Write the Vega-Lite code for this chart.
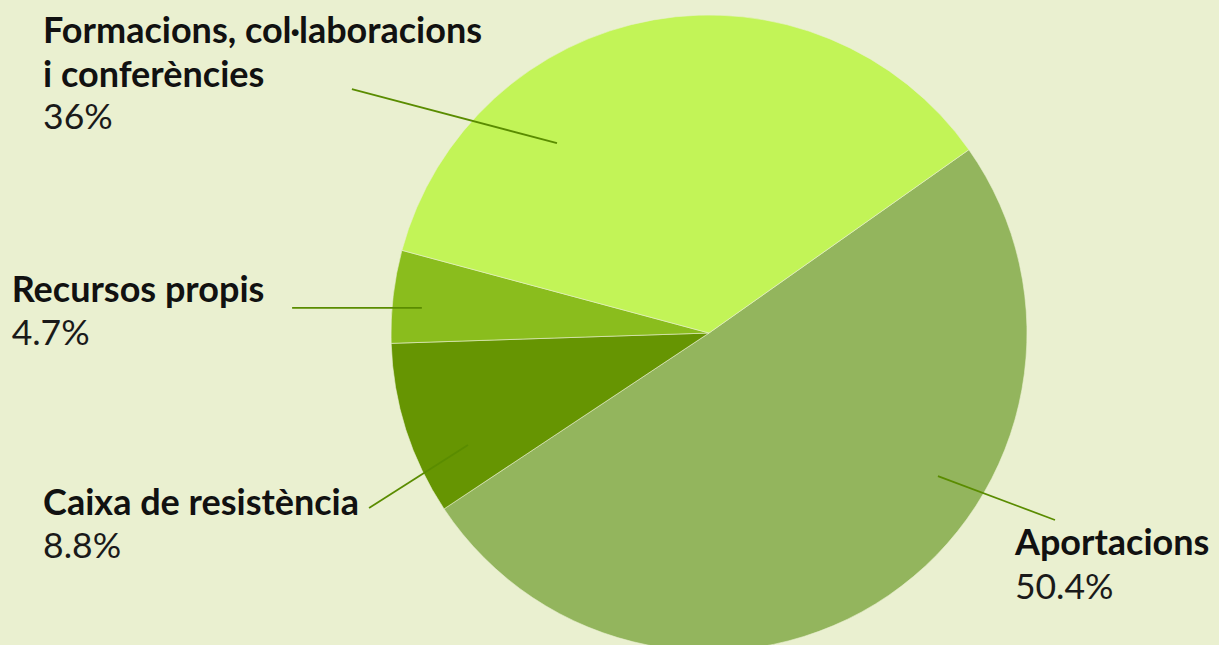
{
  "$schema": "https://vega.github.io/schema/vega-lite/v6.json",
  "autosize": "none",
  "width": 1020,
  "height": 624,
  "padding": {"left": 199, "top": 21, "right": 0, "bottom": 0},
  "background": "#eaf0d0",
  "config": {"view": {"stroke": null}},
  "data": {"values": [
    {"category": "Aportacions", "label": "Aportacions", "value": 50.4, "rank": 1},
    {"category": "Caixa de resistència", "label": "Caixa de resistència", "value": 8.8, "rank": 2},
    {"category": "Recursos propis", "label": "Recursos propis", "value": 4.7, "rank": 3},
    {"category": "Formacions, col·laboracions i conferències", "label": "Formacions, col·laboracions\ni conferències", "value": 36, "rank": 4}
  ]},
  "transform": [{"calculate": "datum.value + '%'", "as": "pct"}],
  "resolve": {"scale": {"x": "shared", "y": "shared"}},
  "layer": [
    {
      "mark": {"type": "arc", "outerRadius": 318, "stroke": "#eaf0d0", "strokeWidth": 0.6},
      "encoding": {
        "theta": {"field": "value", "type": "quantitative", "stack": true, "scale": {"range": [0.9564, 7.2396]}},
        "order": {"field": "rank", "type": "quantitative"},
        "color": {"field": "category", "type": "nominal", "legend": null,
          "scale": {"domain": ["Aportacions", "Caixa de resistència", "Recursos propis", "Formacions, col·laboracions i conferències"],
                    "range": ["#93b55d", "#669502", "#8abd1d", "#c2f457"]}}
      }
    },
    {
      "mark": {"type": "rule", "color": "#5a8c00", "strokeWidth": 1.75},
      "transform": [{"filter": "datum.rank == 4"}],
      "encoding": {
        "x": {"datum": -0.478, "type": "quantitative", "scale": {"domain": [-1.6038, 1.6038], "nice": false, "zero": false}, "axis": null},
        "y": {"datum": 0.597, "type": "quantitative", "scale": {"domain": [-0.98113, 0.98113], "nice": false, "zero": false}, "axis": null},
        "x2": {"datum": -1.123},
        "y2": {"datum": 0.767}
      }
    },
    {
      "mark": {"type": "rule", "color": "#5a8c00", "strokeWidth": 1.75},
      "transform": [{"filter": "datum.rank == 3"}],
      "encoding": {
        "x": {"datum": -0.903, "type": "quantitative"},
        "y": {"datum": 0.079, "type": "quantitative"},
        "x2": {"datum": -1.311},
        "y2": {"datum": 0.079}
      }
    },
    {
      "mark": {"type": "rule", "color": "#5a8c00", "strokeWidth": 1.75},
      "transform": [{"filter": "datum.rank == 2"}],
      "encoding": {
        "x": {"datum": -0.758, "type": "quantitative"},
        "y": {"datum": -0.352, "type": "quantitative"},
        "x2": {"datum": -1.069},
        "y2": {"datum": -0.55}
      }
    },
    {
      "mark": {"type": "rule", "color": "#5a8c00", "strokeWidth": 1.75},
      "transform": [{"filter": "datum.rank == 1"}],
      "encoding": {
        "x": {"datum": 0.72, "type": "quantitative"},
        "y": {"datum": -0.45, "type": "quantitative"},
        "x2": {"datum": 1.088},
        "y2": {"datum": -0.588}
      }
    },
    {
      "mark": {"type": "text", "font": "Lato", "fontSize": 36, "fontWeight": "bold", "color": "#111111", "align": "left", "baseline": "alphabetic", "lineBreak": "\n", "lineHeight": 44},
      "transform": [{"filter": "datum.rank == 4"}],
      "encoding": {"x": {"datum": -2.094, "type": "quantitative"}, "y": {"datum": 0.912, "type": "quantitative"}, "text": {"field": "label"}}
    },
    {
      "mark": {"type": "text", "font": "Lato", "fontSize": 35.5, "color": "#1a1a1a", "align": "left", "baseline": "alphabetic"},
      "transform": [{"filter": "datum.rank == 4"}],
      "encoding": {"x": {"datum": -2.094, "type": "quantitative"}, "y": {"datum": 0.642, "type": "quantitative"}, "text": {"field": "pct"}}
    },
    {
      "mark": {"type": "text", "font": "Lato", "fontSize": 36, "fontWeight": "bold", "color": "#111111", "align": "left", "baseline": "alphabetic"},
      "transform": [{"filter": "datum.rank == 3"}],
      "encoding": {"x": {"datum": -2.193, "type": "quantitative"}, "y": {"datum": 0.0975, "type": "quantitative"}, "text": {"field": "label"}}
    },
    {
      "mark": {"type": "text", "font": "Lato", "fontSize": 35.5, "color": "#1a1a1a", "align": "left", "baseline": "alphabetic"},
      "transform": [{"filter": "datum.rank == 3"}],
      "encoding": {"x": {"datum": -2.193, "type": "quantitative"}, "y": {"datum": -0.0377, "type": "quantitative"}, "text": {"field": "pct"}}
    },
    {
      "mark": {"type": "text", "font": "Lato", "fontSize": 36, "fontWeight": "bold", "color": "#111111", "align": "left", "baseline": "alphabetic"},
      "transform": [{"filter": "datum.rank == 2"}],
      "encoding": {"x": {"datum": -2.094, "type": "quantitative"}, "y": {"datum": -0.572, "type": "quantitative"}, "text": {"field": "label"}}
    },
    {
      "mark": {"type": "text", "font": "Lato", "fontSize": 35.5, "color": "#1a1a1a", "align": "left", "baseline": "alphabetic"},
      "transform": [{"filter": "datum.rank == 2"}],
      "encoding": {"x": {"datum": -2.094, "type": "quantitative"}, "y": {"datum": -0.708, "type": "quantitative"}, "text": {"field": "pct"}}
    },
    {
      "mark": {"type": "text", "font": "Lato", "fontSize": 36, "fontWeight": "bold", "color": "#111111", "align": "left", "baseline": "alphabetic"},
      "transform": [{"filter": "datum.rank == 1"}],
      "encoding": {"x": {"datum": 0.962, "type": "quantitative"}, "y": {"datum": -0.698, "type": "quantitative"}, "text": {"field": "label"}}
    },
    {
      "mark": {"type": "text", "font": "Lato", "fontSize": 35.5, "color": "#1a1a1a", "align": "left", "baseline": "alphabetic"},
      "transform": [{"filter": "datum.rank == 1"}],
      "encoding": {"x": {"datum": 0.962, "type": "quantitative"}, "y": {"datum": -0.836, "type": "quantitative"}, "text": {"field": "pct"}}
    }
  ]
}
